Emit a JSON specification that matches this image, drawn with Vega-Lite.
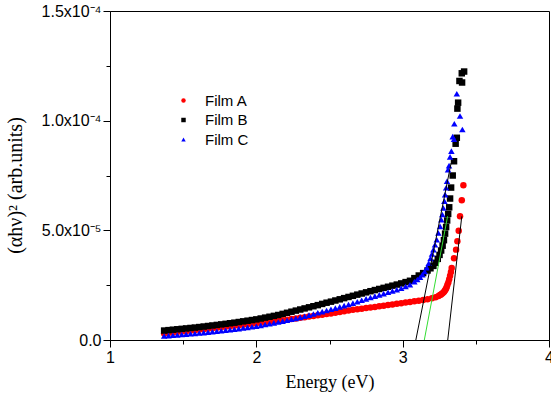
{
"$schema": "https://vega.github.io/schema/vega-lite/v6.json",
"width": 439, "height": 329,
"autosize": {"type": "none"},
"padding": {"left": 110, "top": 11, "right": 2, "bottom": 58},
"background": "#ffffff",
"config": {"view": {"stroke": "#000000", "strokeWidth": 1}, "font": "Liberation Sans"},
"datasets": {
"pts": [
{"f":"Film A","e":1.37,"v":0.30e-5},{"f":"Film A","e":1.40,"v":0.321e-5},{"f":"Film A","e":1.43,"v":0.342e-5},{"f":"Film A","e":1.46,"v":0.363e-5},{"f":"Film A","e":1.49,"v":0.383e-5},{"f":"Film A","e":1.52,"v":0.404e-5},{"f":"Film A","e":1.55,"v":0.425e-5},{"f":"Film A","e":1.58,"v":0.446e-5},{"f":"Film A","e":1.61,"v":0.468e-5},{"f":"Film A","e":1.64,"v":0.49e-5},{"f":"Film A","e":1.67,"v":0.513e-5},{"f":"Film A","e":1.70,"v":0.535e-5},{"f":"Film A","e":1.73,"v":0.558e-5},{"f":"Film A","e":1.76,"v":0.58e-5},{"f":"Film A","e":1.79,"v":0.603e-5},{"f":"Film A","e":1.82,"v":0.625e-5},{"f":"Film A","e":1.85,"v":0.648e-5},{"f":"Film A","e":1.88,"v":0.67e-5},{"f":"Film A","e":1.91,"v":0.693e-5},{"f":"Film A","e":1.94,"v":0.715e-5},{"f":"Film A","e":1.97,"v":0.738e-5},{"f":"Film A","e":2.00,"v":0.76e-5},{"f":"Film A","e":2.03,"v":0.783e-5},{"f":"Film A","e":2.06,"v":0.805e-5},{"f":"Film A","e":2.09,"v":0.828e-5},{"f":"Film A","e":2.12,"v":0.85e-5},{"f":"Film A","e":2.15,"v":0.873e-5},{"f":"Film A","e":2.18,"v":0.899e-5},{"f":"Film A","e":2.21,"v":0.926e-5},{"f":"Film A","e":2.24,"v":0.954e-5},{"f":"Film A","e":2.27,"v":0.982e-5},{"f":"Film A","e":2.30,"v":1.01e-5},{"f":"Film A","e":2.33,"v":1.039e-5},{"f":"Film A","e":2.36,"v":1.067e-5},{"f":"Film A","e":2.39,"v":1.096e-5},{"f":"Film A","e":2.42,"v":1.124e-5},{"f":"Film A","e":2.45,"v":1.153e-5},{"f":"Film A","e":2.48,"v":1.181e-5},{"f":"Film A","e":2.51,"v":1.211e-5},{"f":"Film A","e":2.54,"v":1.246e-5},{"f":"Film A","e":2.57,"v":1.28e-5},{"f":"Film A","e":2.60,"v":1.314e-5},{"f":"Film A","e":2.63,"v":1.349e-5},{"f":"Film A","e":2.66,"v":1.378e-5},{"f":"Film A","e":2.69,"v":1.404e-5},{"f":"Film A","e":2.72,"v":1.43e-5},{"f":"Film A","e":2.75,"v":1.456e-5},{"f":"Film A","e":2.78,"v":1.483e-5},{"f":"Film A","e":2.81,"v":1.509e-5},{"f":"Film A","e":2.84,"v":1.538e-5},{"f":"Film A","e":2.87,"v":1.566e-5},{"f":"Film A","e":2.90,"v":1.594e-5},{"f":"Film A","e":2.93,"v":1.623e-5},{"f":"Film A","e":2.96,"v":1.651e-5},{"f":"Film A","e":2.99,"v":1.679e-5},{"f":"Film A","e":3.02,"v":1.707e-5},{"f":"Film A","e":3.05,"v":1.734e-5},{"f":"Film A","e":3.08,"v":1.762e-5},{"f":"Film A","e":3.11,"v":1.79e-5},{"f":"Film A","e":3.14,"v":1.82e-5},{"f":"Film A","e":3.17,"v":1.86e-5},{"f":"Film A","e":3.20,"v":1.90e-5},{"f":"Film A","e":3.225,"v":1.95e-5},{"f":"Film A","e":3.245,"v":2.01e-5},{"f":"Film A","e":3.255,"v":2.05e-5},{"f":"Film A","e":3.262,"v":2.08e-5},{"f":"Film A","e":3.27,"v":2.12e-5},{"f":"Film A","e":3.278,"v":2.16e-5},{"f":"Film A","e":3.284,"v":2.21e-5},{"f":"Film A","e":3.29,"v":2.27e-5},{"f":"Film A","e":3.296,"v":2.34e-5},{"f":"Film A","e":3.301,"v":2.42e-5},{"f":"Film A","e":3.306,"v":2.52e-5},{"f":"Film A","e":3.312,"v":2.62e-5},{"f":"Film A","e":3.318,"v":2.77e-5},{"f":"Film A","e":3.324,"v":2.93e-5},{"f":"Film A","e":3.33,"v":3.1e-5},{"f":"Film A","e":3.335,"v":3.28e-5},{"f":"Film A","e":3.351,"v":3.73e-5},{"f":"Film A","e":3.365,"v":4.12e-5},{"f":"Film A","e":3.374,"v":4.50e-5},{"f":"Film A","e":3.383,"v":4.98e-5},{"f":"Film A","e":3.392,"v":5.64e-5},{"f":"Film A","e":3.404,"v":6.37e-5},{"f":"Film A","e":3.415,"v":7.06e-5},
{"f":"Film B","e":1.37,"v":0.43e-5},{"f":"Film B","e":1.40,"v":0.45e-5},{"f":"Film B","e":1.43,"v":0.469e-5},{"f":"Film B","e":1.46,"v":0.489e-5},{"f":"Film B","e":1.49,"v":0.508e-5},{"f":"Film B","e":1.52,"v":0.528e-5},{"f":"Film B","e":1.55,"v":0.548e-5},{"f":"Film B","e":1.58,"v":0.567e-5},{"f":"Film B","e":1.61,"v":0.59e-5},{"f":"Film B","e":1.64,"v":0.614e-5},{"f":"Film B","e":1.67,"v":0.638e-5},{"f":"Film B","e":1.70,"v":0.662e-5},{"f":"Film B","e":1.73,"v":0.687e-5},{"f":"Film B","e":1.76,"v":0.712e-5},{"f":"Film B","e":1.79,"v":0.737e-5},{"f":"Film B","e":1.82,"v":0.763e-5},{"f":"Film B","e":1.85,"v":0.79e-5},{"f":"Film B","e":1.88,"v":0.82e-5},{"f":"Film B","e":1.91,"v":0.85e-5},{"f":"Film B","e":1.94,"v":0.88e-5},{"f":"Film B","e":1.97,"v":0.91e-5},{"f":"Film B","e":2.00,"v":0.94e-5},{"f":"Film B","e":2.03,"v":0.98e-5},{"f":"Film B","e":2.06,"v":1.02e-5},{"f":"Film B","e":2.09,"v":1.06e-5},{"f":"Film B","e":2.12,"v":1.10e-5},{"f":"Film B","e":2.15,"v":1.14e-5},{"f":"Film B","e":2.18,"v":1.19e-5},{"f":"Film B","e":2.21,"v":1.24e-5},{"f":"Film B","e":2.24,"v":1.29e-5},{"f":"Film B","e":2.27,"v":1.34e-5},{"f":"Film B","e":2.30,"v":1.39e-5},{"f":"Film B","e":2.33,"v":1.44e-5},{"f":"Film B","e":2.36,"v":1.49e-5},{"f":"Film B","e":2.39,"v":1.54e-5},{"f":"Film B","e":2.42,"v":1.59e-5},{"f":"Film B","e":2.45,"v":1.645e-5},{"f":"Film B","e":2.48,"v":1.70e-5},{"f":"Film B","e":2.51,"v":1.748e-5},{"f":"Film B","e":2.54,"v":1.801e-5},{"f":"Film B","e":2.57,"v":1.855e-5},{"f":"Film B","e":2.60,"v":1.909e-5},{"f":"Film B","e":2.63,"v":1.962e-5},{"f":"Film B","e":2.66,"v":2.015e-5},{"f":"Film B","e":2.69,"v":2.068e-5},{"f":"Film B","e":2.72,"v":2.12e-5},{"f":"Film B","e":2.75,"v":2.173e-5},{"f":"Film B","e":2.78,"v":2.225e-5},{"f":"Film B","e":2.81,"v":2.277e-5},{"f":"Film B","e":2.84,"v":2.327e-5},{"f":"Film B","e":2.87,"v":2.377e-5},{"f":"Film B","e":2.90,"v":2.427e-5},{"f":"Film B","e":2.93,"v":2.477e-5},{"f":"Film B","e":2.96,"v":2.527e-5},{"f":"Film B","e":2.99,"v":2.58e-5},{"f":"Film B","e":3.02,"v":2.64e-5},{"f":"Film B","e":3.05,"v":2.70e-5},{"f":"Film B","e":3.08,"v":2.82e-5},{"f":"Film B","e":3.11,"v":2.94e-5},{"f":"Film B","e":3.14,"v":3.05e-5},{"f":"Film B","e":3.17,"v":3.17e-5},{"f":"Film B","e":3.19,"v":3.27e-5},{"f":"Film B","e":3.21,"v":3.38e-5},{"f":"Film B","e":3.225,"v":3.52e-5},{"f":"Film B","e":3.24,"v":3.70e-5},{"f":"Film B","e":3.252,"v":3.88e-5},{"f":"Film B","e":3.263,"v":4.08e-5},{"f":"Film B","e":3.273,"v":4.30e-5},{"f":"Film B","e":3.282,"v":4.55e-5},{"f":"Film B","e":3.29,"v":4.85e-5},{"f":"Film B","e":3.297,"v":5.15e-5},{"f":"Film B","e":3.304,"v":5.45e-5},{"f":"Film B","e":3.311,"v":5.75e-5},{"f":"Film B","e":3.318,"v":6.05e-5},{"f":"Film B","e":3.324,"v":6.45e-5},{"f":"Film B","e":3.331,"v":6.95e-5},{"f":"Film B","e":3.342,"v":7.50e-5},{"f":"Film B","e":3.351,"v":8.15e-5},{"f":"Film B","e":3.362,"v":8.95e-5},{"f":"Film B","e":3.370,"v":9.22e-5},{"f":"Film B","e":3.374,"v":10.55e-5},{"f":"Film B","e":3.379,"v":10.82e-5},{"f":"Film B","e":3.388,"v":11.81e-5},{"f":"Film B","e":3.406,"v":11.74e-5},{"f":"Film B","e":3.404,"v":12.16e-5},{"f":"Film B","e":3.42,"v":12.24e-5},
{"f":"Film C","e":1.37,"v":0.18e-5},{"f":"Film C","e":1.40,"v":0.197e-5},{"f":"Film C","e":1.43,"v":0.214e-5},{"f":"Film C","e":1.46,"v":0.231e-5},{"f":"Film C","e":1.49,"v":0.248e-5},{"f":"Film C","e":1.52,"v":0.265e-5},{"f":"Film C","e":1.55,"v":0.282e-5},{"f":"Film C","e":1.58,"v":0.299e-5},{"f":"Film C","e":1.61,"v":0.317e-5},{"f":"Film C","e":1.64,"v":0.338e-5},{"f":"Film C","e":1.67,"v":0.36e-5},{"f":"Film C","e":1.70,"v":0.381e-5},{"f":"Film C","e":1.73,"v":0.402e-5},{"f":"Film C","e":1.76,"v":0.423e-5},{"f":"Film C","e":1.79,"v":0.445e-5},{"f":"Film C","e":1.82,"v":0.466e-5},{"f":"Film C","e":1.85,"v":0.489e-5},{"f":"Film C","e":1.88,"v":0.518e-5},{"f":"Film C","e":1.91,"v":0.546e-5},{"f":"Film C","e":1.94,"v":0.574e-5},{"f":"Film C","e":1.97,"v":0.602e-5},{"f":"Film C","e":2.00,"v":0.63e-5},{"f":"Film C","e":2.03,"v":0.668e-5},{"f":"Film C","e":2.06,"v":0.705e-5},{"f":"Film C","e":2.09,"v":0.743e-5},{"f":"Film C","e":2.12,"v":0.78e-5},{"f":"Film C","e":2.15,"v":0.818e-5},{"f":"Film C","e":2.18,"v":0.859e-5},{"f":"Film C","e":2.21,"v":0.901e-5},{"f":"Film C","e":2.24,"v":0.944e-5},{"f":"Film C","e":2.27,"v":0.987e-5},{"f":"Film C","e":2.30,"v":1.03e-5},{"f":"Film C","e":2.33,"v":1.083e-5},{"f":"Film C","e":2.36,"v":1.135e-5},{"f":"Film C","e":2.39,"v":1.188e-5},{"f":"Film C","e":2.42,"v":1.24e-5},{"f":"Film C","e":2.45,"v":1.293e-5},{"f":"Film C","e":2.48,"v":1.345e-5},{"f":"Film C","e":2.51,"v":1.399e-5},{"f":"Film C","e":2.54,"v":1.454e-5},{"f":"Film C","e":2.57,"v":1.51e-5},{"f":"Film C","e":2.60,"v":1.566e-5},{"f":"Film C","e":2.63,"v":1.621e-5},{"f":"Film C","e":2.66,"v":1.683e-5},{"f":"Film C","e":2.69,"v":1.746e-5},{"f":"Film C","e":2.72,"v":1.81e-5},{"f":"Film C","e":2.75,"v":1.874e-5},{"f":"Film C","e":2.78,"v":1.938e-5},{"f":"Film C","e":2.81,"v":1.999e-5},{"f":"Film C","e":2.84,"v":2.058e-5},{"f":"Film C","e":2.87,"v":2.116e-5},{"f":"Film C","e":2.90,"v":2.174e-5},{"f":"Film C","e":2.93,"v":2.233e-5},{"f":"Film C","e":2.96,"v":2.291e-5},{"f":"Film C","e":2.99,"v":2.357e-5},{"f":"Film C","e":3.02,"v":2.439e-5},{"f":"Film C","e":3.05,"v":2.52e-5},{"f":"Film C","e":3.08,"v":2.66e-5},{"f":"Film C","e":3.10,"v":2.76e-5},{"f":"Film C","e":3.119,"v":2.86e-5},{"f":"Film C","e":3.135,"v":2.98e-5},{"f":"Film C","e":3.15,"v":3.12e-5},{"f":"Film C","e":3.165,"v":3.30e-5},{"f":"Film C","e":3.178,"v":3.50e-5},{"f":"Film C","e":3.19,"v":3.72e-5},{"f":"Film C","e":3.20,"v":3.92e-5},{"f":"Film C","e":3.21,"v":4.12e-5},{"f":"Film C","e":3.221,"v":4.34e-5},{"f":"Film C","e":3.233,"v":4.57e-5},{"f":"Film C","e":3.244,"v":4.88e-5},{"f":"Film C","e":3.256,"v":5.18e-5},{"f":"Film C","e":3.264,"v":5.49e-5},{"f":"Film C","e":3.271,"v":5.72e-5},{"f":"Film C","e":3.278,"v":6.02e-5},{"f":"Film C","e":3.285,"v":6.33e-5},{"f":"Film C","e":3.29,"v":6.63e-5},{"f":"Film C","e":3.297,"v":6.94e-5},{"f":"Film C","e":3.303,"v":7.24e-5},{"f":"Film C","e":3.31,"v":7.77e-5},{"f":"Film C","e":3.317,"v":7.95e-5},{"f":"Film C","e":3.324,"v":8.35e-5},{"f":"Film C","e":3.333,"v":8.61e-5},{"f":"Film C","e":3.342,"v":9.27e-5},{"f":"Film C","e":3.351,"v":9.15e-5},{"f":"Film C","e":3.353,"v":9.86e-5},{"f":"Film C","e":3.37,"v":11.23e-5},{"f":"Film C","e":3.392,"v":10.21e-5},{"f":"Film C","e":3.408,"v":9.6e-5}
],
"tan": [
{"l":"L1","e":3.09,"v":0},{"l":"L1","e":3.331,"v":8.07e-5},
{"l":"L2","e":3.148,"v":0},{"l":"L2","e":3.307,"v":5.64e-5},
{"l":"L3","e":3.308,"v":0},{"l":"L3","e":3.404,"v":5.64e-5}
]
},
"layer": [
{
"data": {"name": "pts"},
"mark": {"type": "point", "filled": true, "size": 42, "opacity": 1},
"encoding": {
"x": {"field": "e", "type": "quantitative",
 "scale": {"domain": [1, 4], "nice": false, "zero": false},
 "axis": {"values": [1, 1.5, 2, 2.5, 3, 3.5, 4], "labelExpr": "datum.value % 1 == 0 ? format(datum.value, 'd') : ''",
  "title": "Energy (eV)", "titleFont": "Liberation Serif", "titleFontSize": 18, "titleFontWeight": "normal", "titleColor": "#000", "titlePadding": 8,
  "labelFont": "Liberation Sans", "labelFontSize": 16, "labelColor": "#000", "labelPadding": 2, "labelFlush": false, "labelOverlap": false,
  "tickColor": "#000", "domainColor": "#000", "grid": false,
  "tickSize": {"condition": {"test": "datum.value % 1 == 0", "value": 7}, "value": 4}}},
"y": {"field": "v", "type": "quantitative",
 "scale": {"domain": [0, 0.00015], "nice": false, "zero": false},
 "axis": {"values": [0, 0.000025, 0.00005, 0.000075, 0.0001, 0.000125, 0.00015],
  "labelExpr": "['0.0', '', '5.0x10⁻⁵', '', '1.0x10⁻⁴', '', '1.5x10⁻⁴'][round(datum.value / 0.000025)]",
  "title": "(αhν)² (arb.units)", "titleFont": "Liberation Serif", "titleFontSize": 20, "titleFontWeight": "normal", "titleColor": "#000",
  "titleX": -95, "titleY": 174, "titleAngle": -90, "titleAlign": "center", "titleBaseline": "middle",
  "labelFont": "Liberation Sans", "labelFontSize": 16, "labelColor": "#000", "labelPadding": 2, "labelFlush": false, "labelOverlap": false,
  "tickColor": "#000", "domainColor": "#000", "grid": false,
  "tickSize": {"condition": {"test": "round(datum.value / 0.000025) % 2 == 0", "value": 7}, "value": 4}}},
"color": {"field": "f", "type": "nominal",
 "scale": {"domain": ["Film A", "Film B", "Film C"], "range": ["#ff0000", "#000000", "#0000ff"]},
 "legend": {"title": null, "orient": "none", "legendX": 66, "legendY": 82, "labelFontSize": 15, "labelFont": "Liberation Sans", "labelColor": "#000", "symbolSize": 20, "labelOffset": 14, "rowPadding": 3.5}},
"shape": {"field": "f", "type": "nominal",
 "scale": {"domain": ["Film A", "Film B", "Film C"], "range": ["circle", "square", "triangle-up"]}}
}
},
{
"data": {"name": "tan"},
"transform": [{"filter": "datum.l != 'L2'"}],
"mark": {"type": "line", "color": "#000000", "strokeWidth": 1},
"encoding": {"x": {"field": "e", "type": "quantitative"}, "y": {"field": "v", "type": "quantitative"}, "detail": {"field": "l"}}
},
{
"data": {"name": "tan"},
"transform": [{"filter": "datum.l == 'L2'"}],
"mark": {"type": "line", "color": "#33dd33", "strokeWidth": 1},
"encoding": {"x": {"field": "e", "type": "quantitative"}, "y": {"field": "v", "type": "quantitative"}}
}
]
}
